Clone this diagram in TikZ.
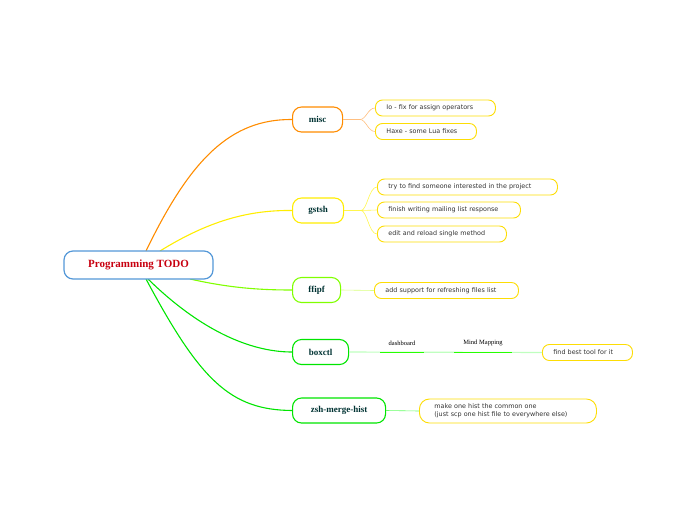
\documentclass[tikz,border=0pt]{standalone}
\usepackage{fontspec}
\newfontfamily\leaffont{DejaVu Sans}
\setmainfont{Liberation Serif}
\begin{document}
\begin{tikzpicture}[x=1pt,y=-1pt,
  central/.style={draw=cyan!60!blue!70,line width=1.2pt,rounded corners=9pt,fill=white,minimum width=149pt,minimum height=28pt,font=\fontsize{11}{13}\selectfont\bfseries,text=red!70!purple!85!black},
  branch/.style={draw=#1,line width=1.1pt,rounded corners=9pt,fill=white,minimum height=25pt,anchor=west,font=\fontsize{9}{11}\selectfont\bfseries,text=teal!40!black},
  leaf/.style={draw=yellow!80!orange,line width=0.9pt,rounded corners=7pt,fill=white,minimum height=16pt,inner xsep=11pt,anchor=west,align=left,text width=#1,font=\leaffont\fontsize{6.4}{8}\selectfont,text=black!80},
  conn/.style={draw=#1,line width=1.1pt},
  thin/.style={draw=#1,line width=0.6pt}]
\useasboundingbox (0,0) rectangle (697,520);
\colorlet{corange}{orange!90!yellow}
\colorlet{cyel}{yellow!95!orange}
\colorlet{cyg}{green!50!yellow}
\colorlet{cgreen}{green!90!black}
\coordinate (s1) at (146,251);
\coordinate (s2) at (160,251);
\coordinate (s3) at (190,279);
\coordinate (s4) at (148,279);
\coordinate (s5) at (146,279);
\node[branch=corange,minimum width=50pt] (misc) at (292,119.5) {misc};
\node[branch=cyel,minimum width=51pt] (gstsh) at (292,210.5) {gstsh};
\node[branch=cyg,minimum width=48pt] (ffipf) at (292,290) {ffipf};
\node[branch=cgreen,minimum width=56pt] (boxctl) at (292,352) {boxctl};
\node[branch=cgreen,minimum width=93pt] (zsh) at (292,410.5) {zsh-merge-hist};
\draw[conn=corange] (s1) .. controls (190,160) and (230,119) .. (misc.west);
\draw[conn=cyel] (s2) .. controls (210,220) and (250,210) .. (gstsh.west);
\draw[conn=cyg] (s3) .. controls (230,288) and (260,290) .. (ffipf.west);
\draw[conn=cgreen] (s4) .. controls (200,330) and (250,352) .. (boxctl.west);
\draw[conn=cgreen] (s5) .. controls (200,380) and (230,410) .. (zsh.west);
\node[central] (c) at (138.5,265) {Programming TODO};
\node[leaf=98pt] (l1) at (375,108) {Io - fix for assign operators};
\node[leaf=79pt] (l2) at (375,131.5) {Haxe - some Lua fixes};
\node[leaf=158pt] (l3) at (377,187) {try to find someone interested in the project};
\node[leaf=121pt] (l4) at (377,210) {finish writing mailing list response};
\node[leaf=107pt] (l5) at (377,234) {edit and reload single method};
\node[leaf=122pt] (l6) at (374,290.5) {add support for refreshing files list};
\node[leaf=68pt] (l7) at (542,352.5) {find best tool for it};
\node[leaf=147pt,minimum height=24pt,rounded corners=10pt,inner xsep=15pt] (l8) at (419,411) {make one hist the common one\\(just scp one hist file to everywhere else)};
\coordinate (m1) at (360,119.5);
\coordinate (m2) at (361,210.5);
\draw[thin=orange!50] (misc.east) -- (m1) .. controls (366,119.5) and (368,108) .. (l1.west);
\draw[thin=orange!50] (m1) .. controls (366,119.5) and (368,131.5) .. (l2.west);
\draw[thin=yellow!70] (gstsh.east) -- (m2) .. controls (367,210.5) and (369,187) .. (l3.west);
\draw[thin=yellow!70] (m2) -- (l4.west);
\draw[thin=yellow!70] (m2) .. controls (367,210.5) and (369,234) .. (l5.west);
\draw[thin=green!30!yellow!50] (ffipf.east) -- (l6.west);
\draw[line width=1.1pt,green!25] (boxctl.east) -- (l7.west);
\coordinate (d1) at (380,352.5); \coordinate (d2) at (424,352.5);
\coordinate (d3) at (454,352.5); \coordinate (d4) at (512,352.5);
\draw[line width=1.3pt,green!80!lime] (d1) -- node[above=3pt,text=black,font=\fontsize{6.5}{8}\selectfont] (t1) {dashboard} (d2);
\draw[line width=1.3pt,green!80!lime] (d3) -- node[above=3pt,text=black,font=\fontsize{6.5}{8}\selectfont] (t2) {Mind Mapping} (d4);
\draw[thin=green!60] (zsh.east) -- (l8.west);
\end{tikzpicture}
\end{document}
